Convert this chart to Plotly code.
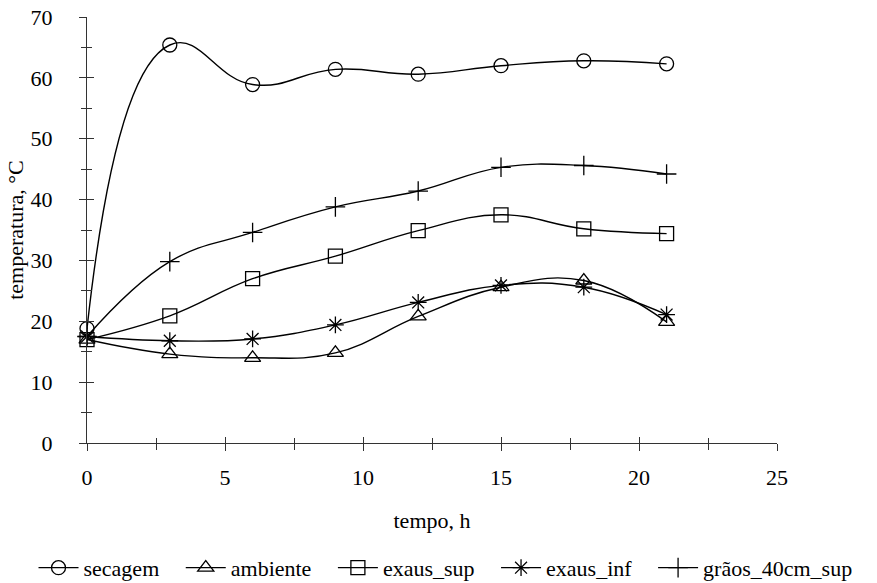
import plotly.graph_objects as go

# Tempo de secagem (h) e temperaturas medidas (°C)
tempo = [0, 3, 6, 9, 12, 15, 18, 21]
secagem = [18.8, 65.4, 58.9, 61.4, 60.6, 62.0, 62.8, 62.3]
ambiente = [17.0, 14.6, 14.0, 14.8, 20.8, 25.6, 26.7, 19.9]
exaus_sup = [17.0, 20.9, 27.0, 30.7, 34.9, 37.5, 35.2, 34.4]
exaus_inf = [17.5, 16.8, 17.1, 19.4, 23.1, 25.9, 25.6, 21.1]
graos_40cm_sup = [17.5, 29.8, 34.6, 38.8, 41.4, 45.3, 45.6, 44.2]

series = [
    ("secagem", secagem, "circle-open", 1.3),
    ("ambiente", ambiente, "triangle-up-open", 1.2),
    ("exaus_sup", exaus_sup, "square-open", 1.2),
    ("exaus_inf", exaus_inf, "asterisk-open", 1.2),
    ("grãos_40cm_sup", graos_40cm_sup, "cross-thin-open", 1.2),
]

FONT = "Liberation Serif, serif"
INK = "#000000"
AXIS = "#333333"
PAD = "\u00a0" * 3              # extra room between legend entries

W, H = 877, 583
ML, MR = 20, 20                 # narrow page margins so the legend can use the full width
PLOT_L, PLOT_R = 87, 777        # where the axes themselves sit
gw = W - ML - MR
x_domain = [(PLOT_L - ML) / gw, (PLOT_R - ML) / gw]

fig = go.Figure()
for i, (name, vals, sym, smooth) in enumerate(series):
    label = name + (PAD if i < len(series) - 1 else "")
    fig.add_trace(go.Scatter(
        x=tempo, y=vals, name=label, mode="lines+markers",
        line=dict(color=INK, width=1.4, shape="spline", smoothing=smooth),
        marker=dict(symbol=sym, size=14, color=INK, line=dict(width=1.3, color=INK)),
        cliponaxis=False,
    ))

# empty trace so the overlay axes (inner half of the crossing ticks) are drawn
fig.add_trace(go.Scatter(x=[], y=[], xaxis="x2", yaxis="y2", showlegend=False, hoverinfo="skip"))

tick_common = dict(tickwidth=1, tickcolor=AXIS, showgrid=False, zeroline=False)

fig.update_layout(
    width=W, height=H,
    margin=dict(l=ML, r=MR, t=17, b=140, autoexpand=False),
    paper_bgcolor="white", plot_bgcolor="white",
    font=dict(family=FONT, size=22, color=INK),
    showlegend=True,
    legend=dict(orientation="h", x=0.508, xanchor="center", xref="container",
                y=0.026, yanchor="middle", yref="container",
                font=dict(family=FONT, size=22, color=INK),
                itemwidth=40, tracegroupgap=0, itemclick=False),
    xaxis=dict(domain=x_domain, range=[0, 25], dtick=5, tick0=0,
               showline=True, linecolor=AXIS, linewidth=1,
               ticks="outside", ticklen=7, **tick_common,
               minor=dict(dtick=2.5, ticks="outside", ticklen=6, tickwidth=1, tickcolor=AXIS, showgrid=False),
               tickfont=dict(family=FONT, size=22), ticklabelstandoff=8,
               title=dict(text="tempo, h", font=dict(family=FONT, size=22), standoff=23)),
    yaxis=dict(range=[0, 70], dtick=10, tick0=0,
               showline=True, linecolor=AXIS, linewidth=1,
               ticks="outside", ticklen=7, **tick_common,
               minor=dict(dtick=5, ticks="outside", ticklen=5, tickwidth=1, tickcolor=AXIS, showgrid=False),
               tickfont=dict(family=FONT, size=22), ticklabelstandoff=22,
               title=dict(text="temperatura, °C", font=dict(family=FONT, size=22), standoff=0)),
    xaxis2=dict(domain=x_domain, range=[0, 25], dtick=5, tick0=0, overlaying="x", anchor="y2",
                showline=False, showticklabels=False,
                ticks="inside", ticklen=6, **tick_common,
                minor=dict(dtick=2.5, ticks="inside", ticklen=5, tickwidth=1, tickcolor=AXIS, showgrid=False)),
    yaxis2=dict(range=[0, 70], dtick=10, tick0=0, overlaying="y", anchor="x2",
                showline=False, showticklabels=False,
                ticks="inside", ticklen=7, **tick_common,
                minor=dict(dtick=5, ticks="inside", ticklen=5, tickwidth=1, tickcolor=AXIS, showgrid=False)),
)

fig.write_html("out.html")
